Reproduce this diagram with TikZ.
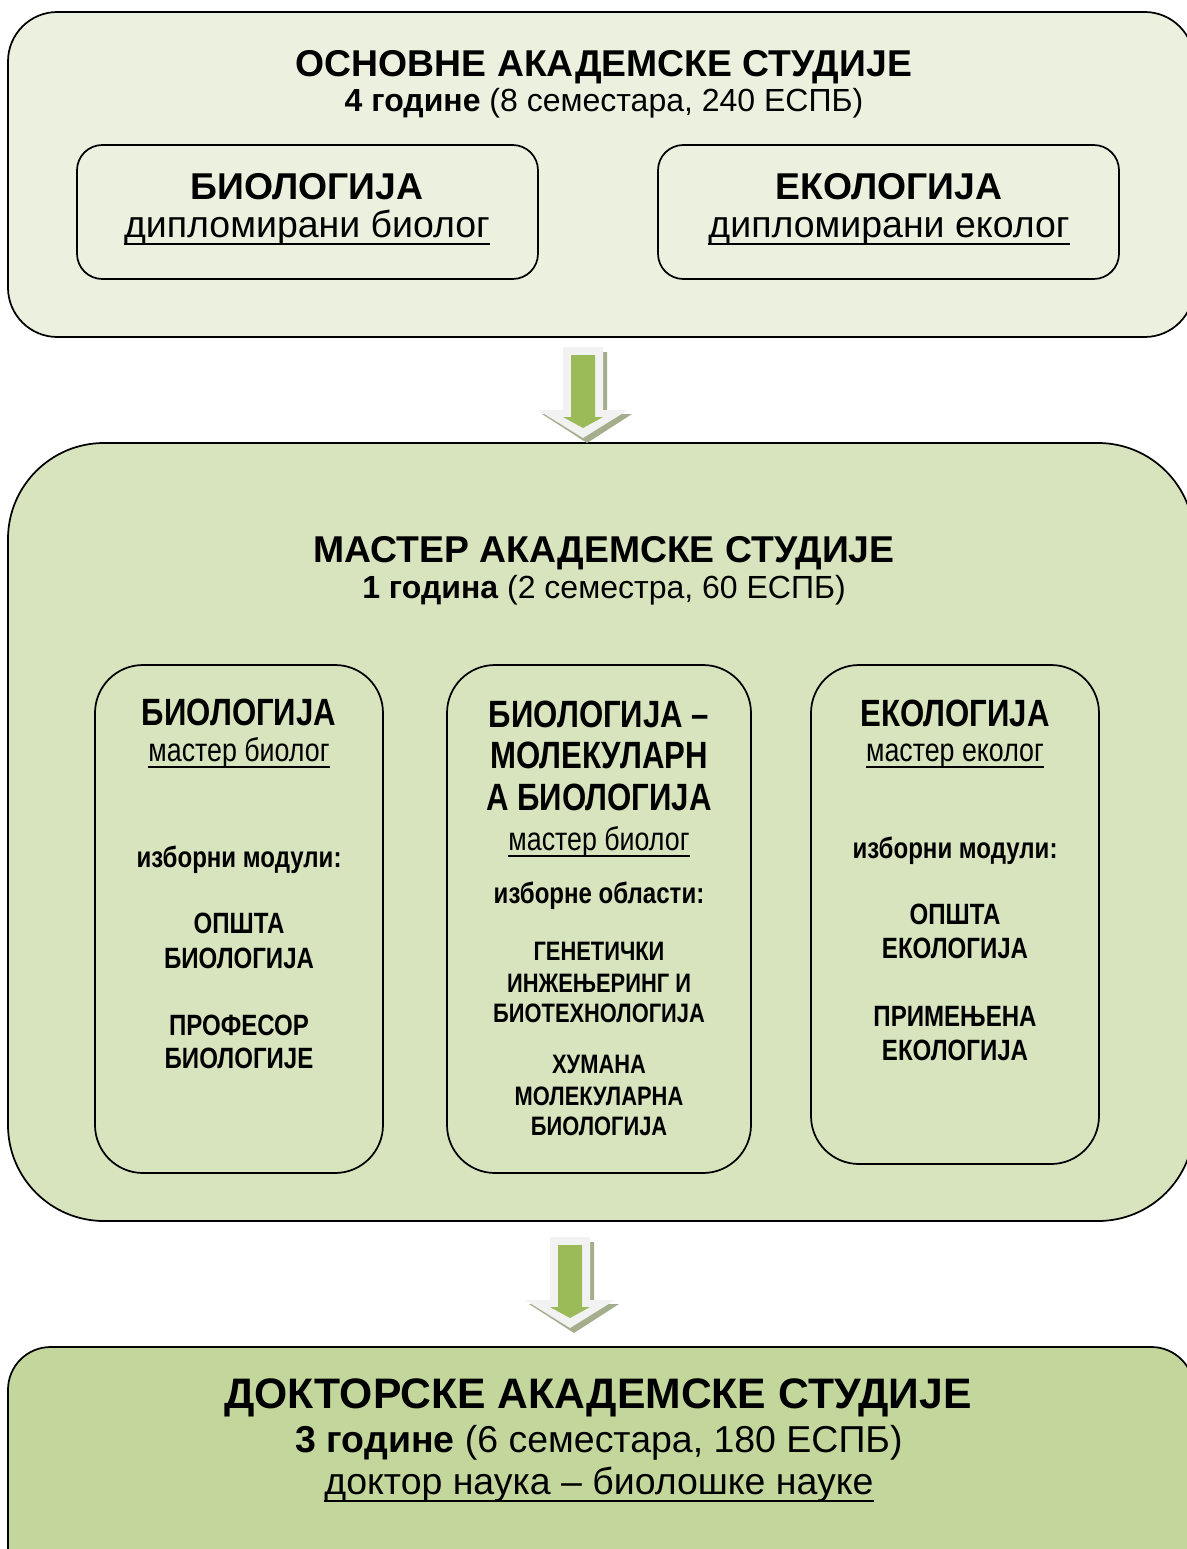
\documentclass[tikz,border=0pt]{standalone}
\usepackage{fontspec}
\setmainfont{Liberation Sans}
\newfontfamily\narrowfont[FakeStretch=0.82]{Liberation Sans}
\usetikzlibrary{fit}

\definecolor{lightolive}{HTML}{EBF1DE}
\definecolor{midolive}{HTML}{D7E4BD}
\definecolor{darkolive}{HTML}{C3D69B}
\definecolor{arrowgreen}{HTML}{9BBB59}
\definecolor{arrowshade}{HTML}{A4AE8C}
\definecolor{arrowpale}{HTML}{F2F2F2}

\tikzset{
	box/.style={draw, line width=1.3pt, inner sep=0pt},
	ln/.style={anchor=base, inner sep=0pt},
	undl/.style={append after command={([yshift=-#1]\tikzlastnode.base west)
		edge[line width=1.4pt] ([yshift=-#1]\tikzlastnode.base east)}},
	undl/.default=5pt,
	head/.style={font=\fontsize{28}{33}\selectfont\bfseries},
	sub/.style={font=\fontsize{24}{29}\selectfont},
	nhead/.style={font=\narrowfont\fontsize{28.5}{33}\selectfont\bfseries},
	nsub/.style={font=\narrowfont\fontsize{24.5}{29}\selectfont},
	nlabel/.style={font=\narrowfont\fontsize{22}{26}\selectfont\bfseries},
	nitem/.style={font=\narrowfont\fontsize{22}{26}\selectfont\bfseries},
	nitems/.style={font=\narrowfont\fontsize{20}{24}\selectfont\bfseries},
	downarrow/.pic={
		\fill[arrowshade] (-16,5) -- (24,5) -- (24,67) -- (49,67) -- (4,96) -- (-41,67) -- (-16,67) -- cycle;
		\fill[arrowpale] (-20,0) -- (20,0) -- (20,63) -- (45,63) -- (0,91) -- (-45,63) -- (-20,63) -- cycle;
		\fill[arrowgreen] (-12,8) -- (12,8) -- (12,70) -- (20,70) -- (0,81) -- (-20,70) -- (-12,70) -- cycle;
	}
}

\begin{document}
\begin{tikzpicture}[x=0.75pt,y=-0.75pt]
	\useasboundingbox (0,0) rectangle (1187,1549);

	% outer boxes
	\node[box, fill=lightolive, rounded corners=37pt, fit={(8,12) (1194,337)}] (osnovne) {};
	\node[box, fill=midolive, rounded corners=72pt, fit={(8,443) (1194,1221)}] (master) {};
	\node[box, fill=darkolive, rounded corners=32pt, fit={(8,1347) (1194,1600)}] (doktor) {};

	% inner boxes
	\node[box, fill=lightolive, rounded corners=19pt, fit={(77,145) (538,279)}] (osnBio) {};
	\node[box, fill=lightolive, rounded corners=19pt, fit={(658,145) (1119,279)}] (osnEko) {};
	\node[box, fill=midolive, rounded corners=36pt, fit={(95,665) (383,1173)}] (masBio) {};
	\node[box, fill=midolive, rounded corners=36pt, fit={(447,665) (751,1173)}] (masMol) {};
	\node[box, fill=midolive, rounded corners=36pt, fit={(811,665) (1099,1164)}] (masEko) {};

	% block arrows
	\pic at (583,347) {downarrow};
	\pic at (570,1237) {downarrow};

	% basic studies
	\node[ln, head] (osnT) at (604,76) {ОСНОВНЕ АКАДЕМСКЕ СТУДИЈЕ};
	\node[ln, sub] (osnS) at (604,111) {\textbf{4 године} (8 семестара, 240 ЕСПБ)};
	\node[ln, head] (osnBioT) at (307,199) {БИОЛОГИЈА};
	\node[ln, font=\fontsize{28.1}{33}\selectfont, undl] (osnBioS) at (307,237) {дипломирани биолог};
	\node[ln, head] (osnEkoT) at (889,199) {ЕКОЛОГИЈА};
	\node[ln, font=\fontsize{28.1}{33}\selectfont, undl] (osnEkoS) at (889,237) {дипломирани еколог};

	% master studies
	\node[ln, head] (masT) at (604,562) {МАСТЕР АКАДЕМСКЕ СТУДИЈЕ};
	\node[ln, sub] (masS) at (604,598) {\textbf{1 година} (2 семестра, 60 ЕСПБ)};

	\node[ln, nhead] (bioT) at (239,725) {БИОЛОГИЈА};
	\node[ln, nsub, undl=4.5pt] (bioS) at (239,761) {мастер биолог};
	\node[ln, nlabel] (bioL) at (239,867) {изборни модули:};
	\foreach \txt/\yy [count=\i] in {ОПШТА/933, БИОЛОГИЈА/968, ПРОФЕСОР/1035, БИОЛОГИЈЕ/1068}
		\node[ln, nitem] (bio\i) at (239,\yy) {\txt};

	\node[ln, nhead] (molT1) at (599,727) {БИОЛОГИЈА –};
	\node[ln, nhead] (molT2) at (599,768) {МОЛЕКУЛАРН};
	\node[ln, nhead] (molT3) at (599,810) {А БИОЛОГИЈА};
	\node[ln, nsub, undl=4.5pt] (molS) at (599,850) {мастер биолог};
	\node[ln, nlabel] (molL) at (599,903) {изборне области:};
	\foreach \txt/\yy [count=\i] in {ГЕНЕТИЧКИ/960, ИНЖЕЊЕРИНГ И/992, БИОТЕХНОЛОГИЈА/1022,
		ХУМАНА/1073, МОЛЕКУЛАРНА/1105, БИОЛОГИЈА/1135}
		\node[ln, nitems] (mol\i) at (599,\yy) {\txt};

	\node[ln, nhead] (ekoT) at (955,726) {ЕКОЛОГИЈА};
	\node[ln, nsub, undl=4.5pt] (ekoS) at (955,761) {мастер еколог};
	\node[ln, nlabel] (ekoL) at (955,858) {изборни модули:};
	\foreach \txt/\yy [count=\i] in {ОПШТА/924, ЕКОЛОГИЈА/958, ПРИМЕЊЕНА/1026, ЕКОЛОГИЈА/1060}
		\node[ln, nitem] (eko\i) at (955,\yy) {\txt};

	% doctoral studies
	\node[ln, font=\fontsize{32}{37}\selectfont\bfseries] (dokT) at (598,1408) {ДОКТОРСКЕ АКАДЕМСКЕ СТУДИЈЕ};
	\node[ln, font=\fontsize{28.1}{34}\selectfont] (dokS) at (599,1452) {\textbf{3 године} (6 семестара, 180 ЕСПБ)};
	\node[ln, font=\fontsize{28.1}{34}\selectfont, undl=5.5pt] (dokU) at (599,1494) {доктор наука – биолошке науке};
\end{tikzpicture}
\end{document}
